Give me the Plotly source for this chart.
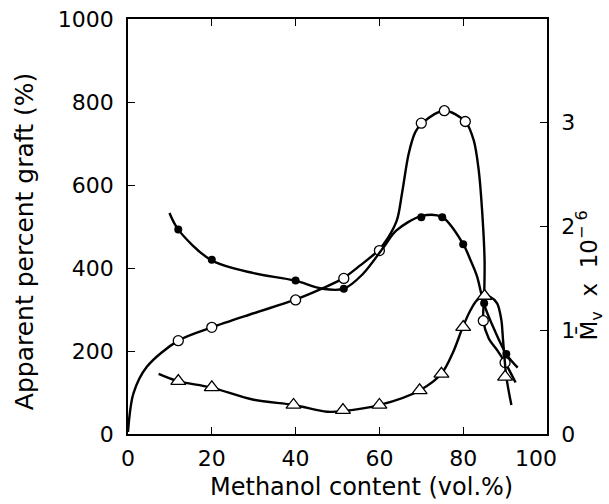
import plotly.graph_objects as go

# --- measured points (read off the picture) ---
# apparent percent graft, open circles, left axis
graft_x = [12, 20, 40, 51.5, 60, 70, 75.5, 80.5, 84.8, 90]
graft_y = [225, 257, 323, 375, 442, 749, 779, 753, 273, 172]

# Mv x 10^-6, filled circles, right axis
mv_fill_x = [12, 20, 40, 51.5, 70, 75, 80, 85, 90.3]
mv_fill_y = [1.97, 1.68, 1.48, 1.40, 2.09, 2.09, 1.83, 1.26, 0.77]

# Mv x 10^-6, triangles, right axis
mv_tri_x = [12, 20, 39.5, 51.3, 60, 69.6, 74.8, 80, 85.1, 90]
mv_tri_y = [0.51, 0.45, 0.28, 0.23, 0.28, 0.42, 0.58, 1.03, 1.33, 0.55]

# --- hand-drawn fitted curves ---
graft_curve_x = [0, 1.3, 4.5, 12, 20, 30, 39.7, 46.4, 51.3, 55.5, 59.7, 62, 64.2, 65.4,
                 67, 68.6, 70.2, 75.5, 80.5, 82.5, 83.7, 84.5, 85.1, 85.0, 84.8, 86.1,
                 88.1, 90, 92.5]
graft_curve_y = [5, 98, 162, 225, 257, 291, 323, 351, 375, 407, 442, 472, 516, 580,
                 676, 728, 749, 779, 753, 708, 636, 540, 419, 330, 273, 230,
                 202, 172, 124]

fill_curve_x = [9.9, 12, 19.7, 30, 39.7, 46.4, 51.5, 56, 61, 64, 70, 75, 80, 81.7,
                83.3, 84.9, 87.5, 90.3, 93]
fill_curve_y = [2.13, 1.97, 1.68, 1.55, 1.48, 1.40, 1.40, 1.54, 1.80, 1.96, 2.10,
                2.09, 1.83, 1.68, 1.52, 1.26, 1.00, 0.77, 0.64]

tri_curve_x = [7.3, 11.9, 19.7, 30, 39.5, 47.5, 51.3, 60.1, 69.6, 74.8, 77.5, 79.9,
               81.7, 83.3, 85.1, 86.5, 88.1, 89.1, 89.5, 90.3, 91.5]
tri_curve_y = [0.58, 0.51, 0.45, 0.33, 0.28, 0.215, 0.22, 0.28, 0.42, 0.58, 0.78, 1.03,
               1.19, 1.29, 1.33, 1.32, 1.26, 1.10, 0.91, 0.55, 0.28]

x_ticks = [0, 20, 40, 60, 80, 100]
x_ticktext = ["0", "20", "40", "60", "80", "100\u2002\u2002"]
left_ticks = [0, 200, 400, 600, 800, 1000]
right_ticks = [0, 1, 2, 3]

FONT = "DejaVu Sans"
line_style = dict(color="black", width=2.4, shape="spline", smoothing=0.9)

fig = go.Figure()

fig.add_trace(go.Scatter(x=graft_curve_x, y=graft_curve_y, mode="lines",
                         line=line_style, showlegend=False))
fig.add_trace(go.Scatter(x=fill_curve_x, y=fill_curve_y, mode="lines", yaxis="y2",
                         line=line_style, showlegend=False))
fig.add_trace(go.Scatter(x=tri_curve_x, y=tri_curve_y, mode="lines", yaxis="y2",
                         line=line_style, showlegend=False))

fig.add_trace(go.Scatter(x=mv_fill_x, y=mv_fill_y, mode="markers", yaxis="y2",
                         marker=dict(symbol="circle", size=8, color="black"),
                         showlegend=False))
fig.add_trace(go.Scatter(x=mv_tri_x, y=mv_tri_y, mode="markers", yaxis="y2",
                         marker=dict(symbol="triangle-up", size=13, color="white",
                                     line=dict(color="black", width=1.3)),
                         showlegend=False))
fig.add_trace(go.Scatter(x=graft_x, y=graft_y, mode="markers",
                         marker=dict(symbol="circle", size=10, color="white",
                                     line=dict(color="black", width=1.3)),
                         showlegend=False))

axis_common = dict(showline=True, linecolor="black", linewidth=1.6, ticks="inside",
                   ticklen=7, tickwidth=1.4, tickcolor="black", showgrid=False,
                   zeroline=False, automargin=False,
                   tickfont=dict(family=FONT, size=22, color="black"))

fig.update_layout(
    width=609, height=504,
    margin=dict(l=128, r=62, t=19, b=70),
    plot_bgcolor="white", paper_bgcolor="white",
    font=dict(family=FONT, color="black"),
    xaxis=dict(range=[0, 100], tickvals=x_ticks, ticktext=x_ticktext, mirror="ticks",
               ticklabelstandoff=4, **axis_common),
    yaxis=dict(range=[0, 1000], tickvals=left_ticks, ticklabelstandoff=8, **axis_common),
    yaxis2=dict(range=[0, 4], tickvals=right_ticks, overlaying="y", side="right",
                ticklabelstandoff=8, **axis_common),
    annotations=[
        dict(text="Methanol content (vol.%)", xref="paper", yref="paper",
             x=0.557, y=-0.128, xanchor="center", yanchor="middle", showarrow=False,
             font=dict(family=FONT, size=24)),
        dict(text="Apparent percent graft (%)", xref="paper", yref="paper",
             x=-0.245, y=0.463, xanchor="center", yanchor="middle", textangle=-90,
             showarrow=False, font=dict(family=FONT, size=25)),
        dict(text="M\u0304<sub>v</sub>  x  10<sup>\u2212 6</sup>", xref="paper", yref="paper",
             x=1.099, y=0.383, xanchor="center", yanchor="middle", textangle=-90,
             showarrow=False, font=dict(family=FONT, size=23)),
    ],
)

# drop the page's default body margin so the figure sits at the window corner
fig.write_html("out.html", config={"displayModeBar": False},
               post_script="document.body.style.margin='0';")
